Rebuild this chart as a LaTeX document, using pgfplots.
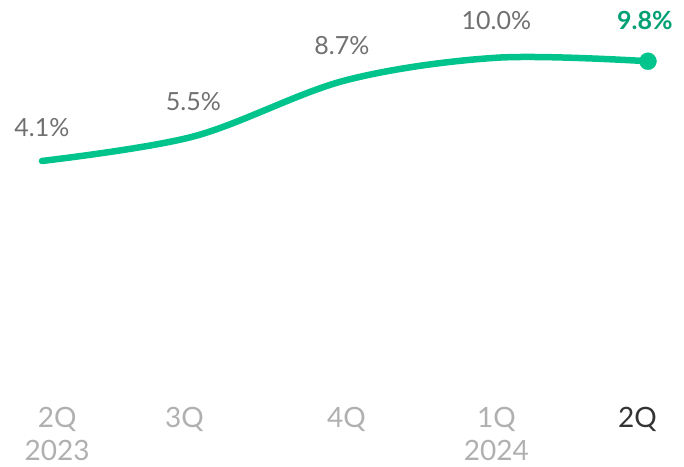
\documentclass[border=0pt]{standalone}
\usepackage{pgfplots}
\pgfplotsset{compat=1.18}
\usepackage{fontspec}
\setmainfont{Lato}
\definecolor{lgreen}{HTML}{00C48C}
\definecolor{dgreen}{HTML}{00A074}
\definecolor{lblgray}{HTML}{707070}
\definecolor{tkgray}{HTML}{B0B0B0}
\definecolor{tkdark}{HTML}{333333}
\begin{document}
\begin{tikzpicture}
\path[use as bounding box] (0pt,0pt) rectangle (684pt,466pt);
\begin{axis}[
  at={(0pt,66pt)}, anchor=south west,
  scale only axis, width=684pt, height=400pt,
  xmin=-0.277, xmax=4.238,
  ymin=-9.56, ymax=13.3,
  axis line style={draw=none},
  ytick=\empty,
  xtick={0.1,0.94,2.01,3,3.93},
  xticklabels={{2Q\\2023},{3Q},{4Q},{1Q\\2024},{\color{tkdark}2Q}},
  xticklabel style={align=center, font=\fontsize{28}{33}\selectfont, text=tkgray, anchor=north, inner sep=0pt, yshift=-7pt},
  major tick length=0pt,
  clip=false,
]
\addplot[lgreen, line width=6.5pt, smooth, tension=0.55, line cap=round] coordinates {
 (0,4.1) (1,5.5) (2,8.7) (3,10.0) (4,9.8)};
\addplot[only marks, mark=*, mark size=8.5pt, lgreen] coordinates {(4,9.8)};
\node[text=lblgray, font=\fontsize{25}{29}\selectfont] at (axis cs:0,4.1) [yshift=33pt] {4.1\%};
\node[text=lblgray, font=\fontsize{25}{29}\selectfont] at (axis cs:1.0,5.5) [yshift=35pt] {5.5\%};
\node[text=lblgray, font=\fontsize{25}{29}\selectfont] at (axis cs:1.98,8.7) [yshift=35pt] {8.7\%};
\node[text=lblgray, font=\fontsize{25}{29}\selectfont] at (axis cs:3,10.0) [yshift=37pt] {10.0\%};
\node[text=dgreen, font=\bfseries\fontsize{25}{29}\selectfont] at (axis cs:3.98,9.8) [yshift=41pt] {9.8\%};
\end{axis}
\end{tikzpicture}
\end{document}
